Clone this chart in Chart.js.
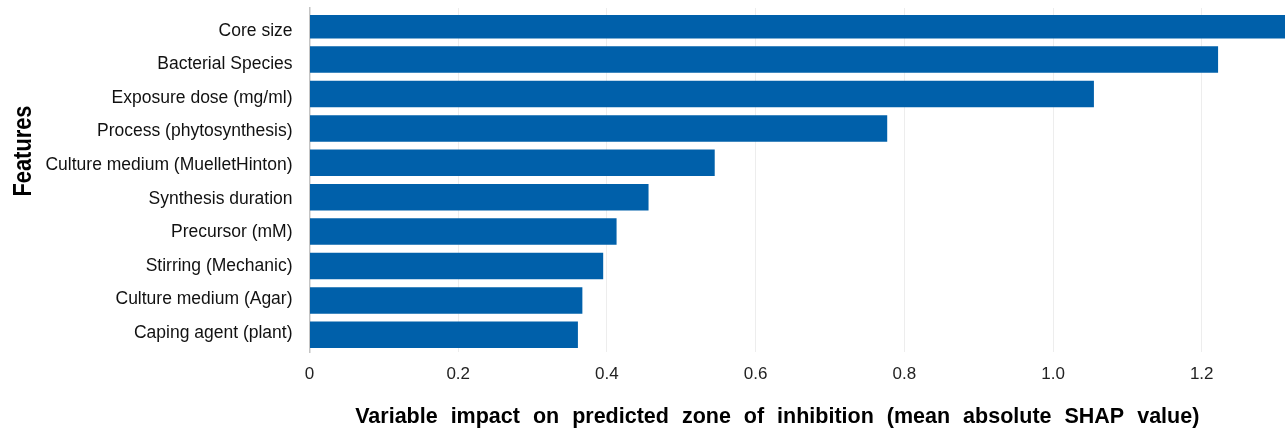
<!DOCTYPE html>
<html>
<head>
<meta charset="utf-8">
<script src="https://cdn.jsdelivr.net/npm/chart.js@4/dist/chart.umd.min.js"></script>
<style>
  html, body { margin: 0; padding: 0; background: #ffffff; }
  #wrap { width: 1285px; height: 429px; position: relative; }
</style>
</head>
<body>
<div id="wrap"><canvas id="chart" width="1285" height="429"></canvas></div>
<script>
// Feature names, most influential first
const features = [
  "Core size",
  "Bacterial Species",
  "Exposure dose (mg/ml)",
  "Process (phytosynthesis)",
  "Culture medium (MuelletHinton)",
  "Synthesis duration",
  "Precursor (mM)",
  "Stirring (Mechanic)",
  "Culture medium (Agar)",
  "Caping agent (plant)"
];

// Mean absolute SHAP value per feature
const meanAbsShap = [1.33, 1.222, 1.055, 0.777, 0.545, 0.456, 0.413, 0.395, 0.367, 0.361];

// Axis tick values shown on the x axis
const xTicks = [0, 0.2, 0.4, 0.6, 0.8, 1.0, 1.2];

const xTitle = "Variable impact on predicted zone of inhibition (mean absolute SHAP value)";
const yTitle = "Features";

const FONT = "'Liberation Sans', Arial, Helvetica, sans-serif";

// Feature names sit on a slightly tighter spacing than the bars:
// the name column spans these index positions from top to bottom.
const NAME_MIN = -0.679;
const NAME_MAX = 9.56;

// Draws the two axis captions at their own spots around the plot area
const axisCaptions = {
  id: 'axisCaptions',
  afterDraw(chart) {
    const { ctx, chartArea } = chart;
    ctx.save();
    ctx.fillStyle = '#000000';
    ctx.textAlign = 'center';
    ctx.textBaseline = 'middle';
    // x caption, with wide word gaps
    ctx.font = "bold 21.5px " + FONT;
    if ('wordSpacing' in ctx) ctx.wordSpacing = '7px';
    ctx.fillText(xTitle, chartArea.left + (chartArea.right - chartArea.left) * 0.4795, 417);
    if ('wordSpacing' in ctx) ctx.wordSpacing = '0px';
    // y caption, rotated, tall and tight
    ctx.save();
    ctx.translate(23, 151);
    ctx.rotate(-Math.PI / 2);
    ctx.scale(0.84, 1);
    ctx.font = "bold 26px " + FONT;
    ctx.fillText(yTitle, 0, 1);
    ctx.restore();
    ctx.restore();
  }
};

new Chart(document.getElementById('chart'), {
  type: 'bar',
  data: {
    labels: features,
    datasets: [{
      data: meanAbsShap,
      backgroundColor: '#0060aa',
      borderWidth: 0,
      barPercentage: 0.79,
      categoryPercentage: 1.0,
      clip: { left: 0, top: -7, right: 0, bottom: 0 }
    }]
  },
  options: {
    indexAxis: 'y',
    responsive: false,
    animation: false,
    devicePixelRatio: 1,
    layout: { padding: { top: 8, right: 0, bottom: 0, left: 0 } },
    plugins: {
      legend: { display: false },
      tooltip: { enabled: false }
    },
    scales: {
      x: {
        type: 'linear',
        min: 0,
        max: 1.312,
        afterFit(scale) {
          scale.height = 77;
          scale.paddingLeft = 0;
          scale.paddingRight = 0;
        },
        afterBuildTicks(scale) {
          scale.ticks = xTicks.map(v => ({ value: v }));
        },
        ticks: {
          includeBounds: false,
          padding: 12,
          color: '#222222',
          font: { family: FONT, size: 17 },
          callback: v => (v === 0 ? '0' : Number(v).toFixed(1))
        },
        grid: {
          display: true,
          color: '#ededed',
          lineWidth: 1,
          drawTicks: false
        },
        border: { display: false }
      },
      y: {
        afterFit(scale) {
          scale.width = 309.5;
          scale.paddingTop = 0;
          scale.paddingBottom = 0;
          // place each name on the name column's own spacing
          scale.getPixelForTick = function (i) {
            return this.top + (i - NAME_MIN) / (NAME_MAX - NAME_MIN) * (this.bottom - this.top);
          };
        },
        ticks: {
          autoSkip: false,
          padding: 17,
          color: '#111111',
          font: { family: FONT, size: 17.5 }
        },
        grid: { display: false, drawTicks: false },
        border: { display: true, color: '#c4c4c4', width: 1.5 }
      }
    }
  },
  plugins: [axisCaptions]
});
</script>
</body>
</html>
